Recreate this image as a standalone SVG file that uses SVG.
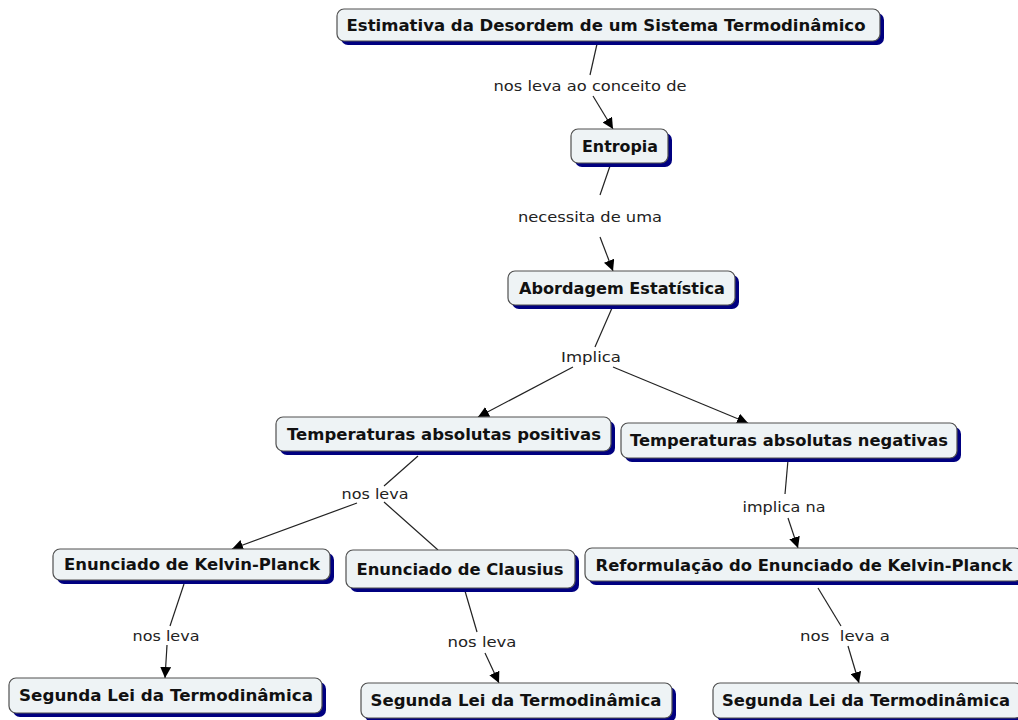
<svg xmlns="http://www.w3.org/2000/svg" width="1018" height="720" viewBox="0 0 1018 720">
<defs>
<marker id="arr" viewBox="0 0 10 10" refX="10" refY="5" markerWidth="11" markerHeight="11" markerUnits="userSpaceOnUse" orient="auto">
<path d="M0,0 L10,5 L0,10 z" fill="#000"/>
</marker>
<style>
.sh{fill:#000080}
.bx{fill:#eef3f5;stroke:#505050;stroke-width:1.2}
.nt{font-family:"DejaVu Sans",Verdana,sans-serif;font-weight:bold;font-size:15.5px;fill:#111;text-anchor:middle}
.lt{font-family:"DejaVu Sans",Verdana,sans-serif;font-size:14.5px;fill:#222;text-anchor:middle}
.ln{stroke:#222;stroke-width:1.2;fill:none}
</style>
</defs>
<rect width="1018" height="720" fill="#fff"/>
<g id="connectors">
<line class="ln" x1="597" y1="44" x2="590" y2="75"/>
<line class="ln" x1="593" y1="96" x2="613" y2="129" marker-end="url(#arr)"/>
<line class="ln" x1="610" y1="166" x2="600" y2="195"/>
<line class="ln" x1="600" y1="237" x2="613" y2="271" marker-end="url(#arr)"/>
<line class="ln" x1="612" y1="308" x2="595" y2="347"/>
<line class="ln" x1="573" y1="367" x2="478" y2="417" marker-end="url(#arr)"/>
<line class="ln" x1="613" y1="367" x2="748" y2="423" marker-end="url(#arr)"/>
<line class="ln" x1="418" y1="456" x2="384" y2="486"/>
<line class="ln" x1="357" y1="503" x2="232" y2="549" marker-end="url(#arr)"/>
<line class="ln" x1="384" y1="502" x2="438" y2="550"/>
<line class="ln" x1="788" y1="460" x2="785" y2="494"/>
<line class="ln" x1="788" y1="518" x2="798" y2="548" marker-end="url(#arr)"/>
<line class="ln" x1="184" y1="584" x2="170" y2="626"/>
<line class="ln" x1="167" y1="645" x2="165" y2="678" marker-end="url(#arr)"/>
<line class="ln" x1="465" y1="591" x2="477" y2="632"/>
<line class="ln" x1="485" y1="653" x2="499" y2="683" marker-end="url(#arr)"/>
<line class="ln" x1="818" y1="588" x2="841" y2="626"/>
<line class="ln" x1="848" y1="646" x2="859" y2="683" marker-end="url(#arr)"/>
<text class="lt" x="590" y="91" textLength="193" lengthAdjust="spacingAndGlyphs">nos leva ao conceito de</text>
<text class="lt" x="590" y="222" textLength="144" lengthAdjust="spacingAndGlyphs">necessita de uma</text>
<text class="lt" x="591" y="362" textLength="60" lengthAdjust="spacingAndGlyphs">Implica</text>
<text class="lt" x="375" y="499" textLength="67" lengthAdjust="spacingAndGlyphs">nos leva</text>
<text class="lt" x="784" y="512" textLength="83" lengthAdjust="spacingAndGlyphs">implica na</text>
<text class="lt" x="166" y="641" textLength="67" lengthAdjust="spacingAndGlyphs">nos leva</text>
<text class="lt" x="482" y="647" textLength="69" lengthAdjust="spacingAndGlyphs">nos leva</text>
<text class="lt" x="845" y="641" textLength="90" lengthAdjust="spacingAndGlyphs" xml:space="preserve">nos  leva a</text>
</g>
<g id="n1"><rect class="sh" x="341" y="13" width="543" height="32" rx="7"/><rect class="bx" x="337" y="9" width="543" height="32" rx="7"/><text class="nt" x="606" y="31" textLength="519" lengthAdjust="spacingAndGlyphs">Estimativa da Desordem de um Sistema Termodinâmico</text></g>
<g id="n2"><rect class="sh" x="575" y="133" width="97" height="34" rx="7"/><rect class="bx" x="571" y="129" width="97" height="34" rx="7"/><text class="nt" x="620" y="152" textLength="76" lengthAdjust="spacingAndGlyphs">Entropia</text></g>
<g id="n3"><rect class="sh" x="512" y="275" width="227" height="34" rx="7"/><rect class="bx" x="508" y="271" width="227" height="34" rx="7"/><text class="nt" x="622" y="294" textLength="206" lengthAdjust="spacingAndGlyphs">Abordagem Estatística</text></g>
<g id="n4"><rect class="sh" x="280" y="421" width="335" height="34" rx="7"/><rect class="bx" x="276" y="417" width="335" height="34" rx="7"/><text class="nt" x="444" y="440" textLength="314" lengthAdjust="spacingAndGlyphs">Temperaturas absolutas positivas</text></g>
<g id="n5"><rect class="sh" x="625" y="427" width="336" height="35" rx="7"/><rect class="bx" x="621" y="423" width="336" height="35" rx="7"/><text class="nt" x="789" y="446" textLength="318" lengthAdjust="spacingAndGlyphs">Temperaturas absolutas negativas</text></g>
<g id="n6"><rect class="sh" x="57" y="553" width="277" height="31" rx="7"/><rect class="bx" x="53" y="549" width="277" height="31" rx="7"/><text class="nt" x="192" y="570" textLength="256" lengthAdjust="spacingAndGlyphs">Enunciado de Kelvin-Planck</text></g>
<g id="n7"><rect class="sh" x="350" y="554" width="229" height="38" rx="7"/><rect class="bx" x="346" y="550" width="229" height="38" rx="7"/><text class="nt" x="460" y="575" textLength="207" lengthAdjust="spacingAndGlyphs">Enunciado de Clausius</text></g>
<g id="n8"><rect class="sh" x="589" y="552" width="437" height="33" rx="7"/><rect class="bx" x="585" y="548" width="437" height="33" rx="7"/><text class="nt" x="804" y="571" textLength="417" lengthAdjust="spacingAndGlyphs">Reformulação do Enunciado de Kelvin-Planck</text></g>
<g id="n9"><rect class="sh" x="13" y="682" width="313" height="35" rx="7"/><rect class="bx" x="9" y="678" width="313" height="35" rx="7"/><text class="nt" x="166" y="701" textLength="294" lengthAdjust="spacingAndGlyphs">Segunda Lei da Termodinâmica</text></g>
<g id="n10"><rect class="sh" x="365" y="687" width="311" height="35" rx="7"/><rect class="bx" x="361" y="683" width="311" height="35" rx="7"/><text class="nt" x="516" y="706" textLength="291" lengthAdjust="spacingAndGlyphs">Segunda Lei da Termodinâmica</text></g>
<g id="n11"><rect class="sh" x="717" y="687" width="309" height="35" rx="7"/><rect class="bx" x="713" y="683" width="309" height="35" rx="7"/><text class="nt" x="866" y="706" textLength="288" lengthAdjust="spacingAndGlyphs">Segunda Lei da Termodinâmica</text></g>
</svg>
